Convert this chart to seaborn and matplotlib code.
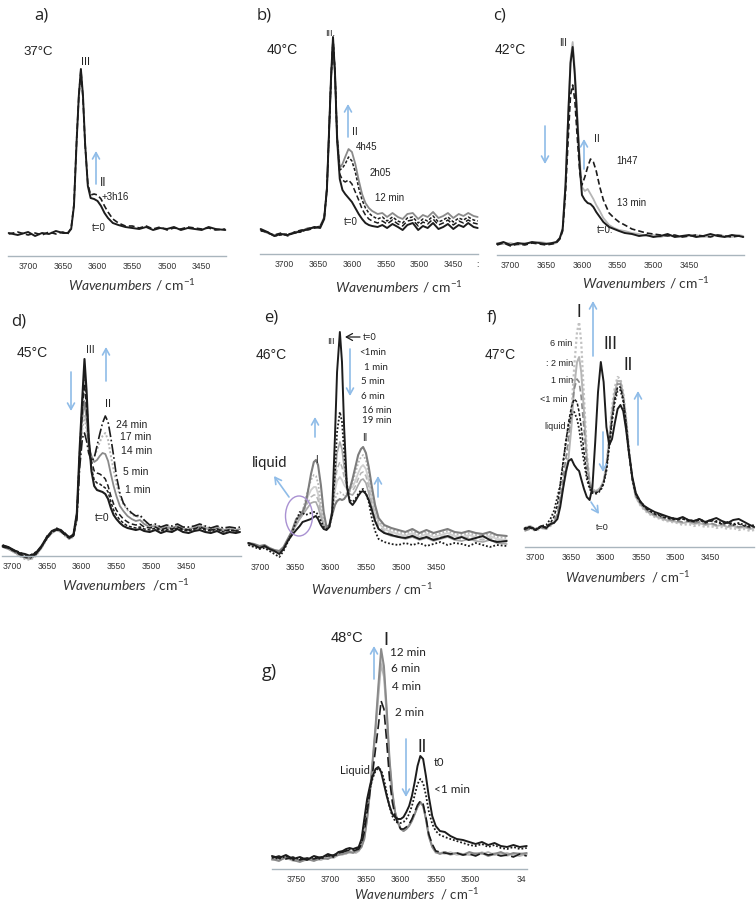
import matplotlib
matplotlib.use('Agg')
import matplotlib.pyplot as plt
import seaborn as sns
from matplotlib.patches import Ellipse, FancyArrowPatch

# ---- data: wavenumbers (cm-1) and absorbance (arb. units) ----

# a) 37 C
A_WN = [3728, 3715, 3700, 3690, 3680, 3670, 3660, 3650, 3643, 3638, 3634, 3630, 3627, 3624, 3621, 3618,
        3614, 3610, 3605, 3600, 3595, 3590, 3585, 3578, 3570, 3560, 3550, 3540, 3530, 3520, 3510, 3500,
        3490, 3480, 3470, 3460, 3450, 3440, 3430, 3416]
A_T0 = [23, 21, 24, 20, 23, 22, 25, 23, 23, 27, 50, 117, 160, 187, 160, 113,
        70, 58, 57, 55, 50, 43, 38, 33, 31, 29, 28, 27, 29, 26, 28, 27,
        29, 26, 28, 27, 26, 29, 27, 26]
A_3H16 = [22, 24, 21, 23, 21, 24, 22, 24, 22, 28, 52, 118, 160, 186, 158, 112,
          72, 61, 62, 61, 57, 50, 44, 37, 33, 30, 30, 28, 30, 27, 29, 26,
          28, 27, 29, 28, 27, 28, 26, 27]

# b) 40 C
B_WN = [3735, 3725, 3715, 3705, 3695, 3685, 3675, 3665, 3655, 3647, 3641, 3637, 3634, 3631, 3628, 3625,
        3622, 3618, 3614, 3610, 3605, 3600, 3595, 3590, 3585, 3580, 3575, 3570, 3562, 3555, 3548, 3540,
        3532, 3525, 3518, 3510, 3502, 3495, 3488, 3480, 3472, 3465, 3458, 3450, 3442, 3435, 3428, 3420, 3414]
B_T0 = [25, 22, 18, 20, 19, 21, 23, 25, 27, 26, 35, 65, 120, 175, 217, 180, 115,
        75, 64, 60, 56, 52, 46, 40, 35, 31, 29, 28, 27, 29, 26, 30,
        27, 24, 29, 31, 24, 28, 26, 31, 25, 27, 30, 25, 29, 27, 31, 27, 26]
B_12MIN = [24, 21, 19, 21, 18, 22, 24, 24, 26, 27, 36, 66, 121, 175, 216, 180, 116,
           80, 74, 72, 74, 70, 62, 54, 45, 39, 35, 33, 31, 33, 30, 34,
           30, 28, 33, 34, 28, 32, 30, 35, 29, 31, 34, 29, 33, 31, 34, 31, 30]
B_2H05 = [23, 22, 18, 19, 20, 21, 22, 25, 27, 27, 36, 64, 118, 173, 215, 181, 118,
          84, 86, 90, 97, 93, 82, 66, 54, 46, 41, 38, 35, 37, 33, 37,
          33, 31, 36, 37, 31, 35, 33, 38, 32, 34, 37, 32, 36, 34, 37, 34, 33]
B_4H45 = [24, 21, 19, 20, 19, 22, 23, 26, 26, 28, 37, 66, 119, 172, 212, 180, 120,
          86, 90, 97, 105, 102, 90, 74, 60, 51, 46, 43, 40, 41, 37, 41,
          37, 35, 40, 41, 35, 39, 37, 42, 36, 38, 41, 36, 40, 38, 41, 38, 37]

# c) 42 C
C_WN = [3719, 3710, 3700, 3690, 3680, 3670, 3660, 3650, 3642, 3636, 3631, 3627, 3623, 3619, 3616, 3613,
        3610, 3607, 3603, 3600, 3596, 3592, 3588, 3584, 3580, 3575, 3570, 3562, 3555, 3548, 3540, 3530,
        3520, 3510, 3500, 3490, 3480, 3470, 3460, 3450, 3440, 3430, 3420, 3410, 3400, 3390, 3380, 3374]
C_T0 = [11, 13, 10, 12, 11, 13, 12, 11, 12, 13, 17, 26, 70, 143, 192, 208,
        180, 140, 88, 60, 55, 52, 51, 48, 43, 38, 33, 28, 26, 24, 22, 21,
        19, 20, 18, 19, 21, 18, 19, 20, 18, 19, 21, 19, 18, 20, 19, 18]
C_13MIN = [12, 11, 12, 10, 12, 12, 13, 12, 11, 12, 16, 27, 72, 145, 196, 213,
           186, 148, 95, 68, 64, 66, 61, 56, 50, 44, 37, 30, 27, 25, 24, 22,
           21, 19, 20, 18, 20, 19, 18, 19, 20, 18, 19, 20, 19, 18, 20, 19]
C_1H47 = [10, 12, 9, 11, 10, 12, 11, 10, 11, 12, 16, 24, 62, 120, 160, 170,
          155, 122, 82, 70, 78, 88, 96, 93, 84, 68, 55, 42, 37, 33, 30, 26,
          24, 22, 21, 20, 19, 20, 18, 19, 20, 19, 18, 20, 19, 18, 19, 18]

# d) 45 C
D_WN = [3714, 3706, 3698, 3690, 3682, 3674, 3666, 3658, 3650, 3643, 3636, 3630, 3624, 3618,
        3612, 3607, 3603, 3599, 3596, 3593, 3590, 3586, 3582, 3578, 3574, 3570, 3566, 3562, 3558, 3554,
        3550, 3545, 3540, 3534, 3528, 3522, 3516, 3510,
        3502, 3494, 3486, 3478, 3470, 3462, 3454, 3446, 3438, 3430, 3422, 3414, 3405, 3396, 3387, 3378, 3372]
D_T0 = [10, 9, 6, 3, 2, 0, 3, 10, 19, 25, 27, 26, 22, 19,
        21, 43, 107, 160, 197, 165, 120, 85, 70, 66, 65, 64, 62, 57, 48, 41, 37, 33, 30, 28, 27, 26, 27, 25,
        24, 26, 23, 25, 24, 27, 24, 23, 25, 26, 24, 23, 25, 22, 24, 23, 24]
D_1MIN = [11, 8, 6, 4, 1, 1, 4, 9, 20, 24, 28, 25, 23, 18,
          22, 42, 104, 155, 188, 158, 118, 88, 76, 73, 72, 70, 68, 64, 54, 46, 41, 36, 33, 30, 29, 28, 29, 27,
          26, 28, 25, 27, 26, 28, 26, 25, 27, 28, 26, 25, 27, 24, 26, 25, 25]
D_5MIN = [9, 8, 5, 2, 0, -1, 2, 9, 18, 24, 26, 25, 21, 18,
          20, 40, 100, 148, 172, 148, 115, 95, 85, 83, 82, 80, 77, 70, 60, 52, 46, 41, 37, 34, 32, 31, 32, 29,
          28, 29, 26, 28, 27, 29, 27, 26, 27, 29, 27, 26, 27, 25, 26, 25, 26]
D_14MIN = [9, 7, 4, 1, -2, -3, 1, 8, 18, 23, 26, 24, 21, 17,
           20, 38, 95, 138, 155, 135, 110, 100, 94, 96, 100, 103, 102, 95, 82, 70, 60, 50, 45, 40, 37, 35, 36, 32,
           29, 30, 27, 29, 28, 30, 27, 27, 28, 30, 28, 26, 28, 26, 27, 26, 27]
D_17MIN = [10, 8, 4, 0, -3, -4, 0, 8, 17, 23, 26, 24, 20, 17,
           19, 37, 92, 128, 140, 125, 108, 100, 100, 106, 114, 120, 123, 116, 100, 86, 72, 60, 52, 46, 42, 39, 40, 35,
           30, 31, 28, 30, 29, 31, 28, 28, 29, 31, 29, 27, 29, 27, 28, 27, 28]
D_24MIN = [11, 9, 5, 2, -1, -2, 2, 9, 18, 24, 27, 25, 21, 18,
           20, 36, 88, 118, 123, 115, 103, 95, 98, 110, 122, 133, 140, 134, 118, 100, 80, 63, 53, 47, 43, 40, 41, 36,
           31, 32, 29, 31, 30, 32, 29, 29, 30, 32, 30, 28, 30, 28, 29, 28, 29]

# e) 46 C
E_WN = [3717, 3709, 3701, 3694, 3687, 3680, 3673, 3667, 3661, 3655, 3649, 3644, 3640, 3636, 3632, 3628,
        3624, 3621, 3618, 3614, 3610, 3606, 3602, 3598, 3594, 3591, 3587, 3584, 3581, 3577, 3573, 3569,
        3565, 3561, 3557, 3554, 3550, 3546, 3542, 3537, 3532,
        3524, 3514, 3504, 3494, 3484, 3474, 3464, 3454, 3444, 3434, 3424, 3414, 3404, 3394, 3384, 3374, 3364, 3350]
E_T0 = [14, 12, 9, 11, 8, 6, 3, 8, 16, 22, 27, 31, 35, 36, 37, 38,
        40, 41, 38, 32, 28, 27, 30, 45, 120, 185, 225, 195, 130, 70, 55, 52,
        56, 61, 65, 66, 63, 57, 48, 36, 28,
        24, 22, 20, 19, 21, 18, 20, 17, 19, 21, 18, 20, 17, 19, 21, 17, 15, 16]
E_LT1 = [12, 10, 8, 9, 6, 3, 0, 6, 15, 24, 36, 45, 44, 42, 43, 44,
         45, 45, 42, 36, 30, 28, 30, 42, 85, 125, 145, 135, 105, 72, 57, 55,
         58, 63, 67, 68, 64, 55, 40, 26, 18,
         15, 13, 12, 14, 12, 14, 11, 13, 15, 12, 14, 13, 11, 14, 12, 10, 12, 11]
E_1MIN = [13, 12, 10, 10, 8, 6, 5, 9, 17, 25, 33, 38, 42, 46, 50, 54,
          55, 55, 50, 40, 31, 28, 31, 42, 78, 104, 115, 108, 90, 72, 63, 62,
          66, 72, 77, 78, 74, 64, 50, 36, 28,
          24, 21, 20, 18, 20, 17, 19, 16, 18, 20, 17, 16, 18, 16, 15, 17, 14, 13]
E_5MIN = [12, 11, 9, 10, 7, 5, 4, 8, 16, 24, 32, 38, 43, 49, 55, 60,
          62, 62, 57, 44, 32, 28, 32, 46, 72, 88, 95, 90, 80, 70, 66, 66,
          71, 78, 84, 85, 81, 70, 55, 40, 31,
          26, 23, 21, 19, 22, 18, 21, 18, 20, 22, 19, 18, 20, 18, 17, 19, 16, 15]
E_6MIN = [13, 12, 10, 11, 8, 6, 5, 9, 17, 25, 32, 39, 45, 53, 61, 67,
          70, 70, 63, 47, 33, 28, 32, 47, 66, 76, 80, 77, 72, 68, 68, 70,
          76, 84, 90, 92, 88, 76, 60, 44, 34,
          28, 25, 23, 21, 24, 20, 23, 20, 22, 24, 21, 20, 22, 20, 19, 21, 18, 17]
E_16MIN = [12, 11, 9, 10, 7, 5, 4, 8, 16, 24, 33, 39, 46, 57, 68, 77,
           82, 81, 74, 54, 35, 28, 31, 44, 58, 63, 65, 63, 62, 64, 68, 74,
           84, 94, 100, 102, 97, 84, 66, 48, 36,
           30, 27, 25, 23, 26, 22, 25, 22, 24, 26, 23, 22, 24, 22, 21, 23, 20, 19]
E_19MIN = [14, 13, 11, 12, 9, 7, 6, 10, 18, 26, 38, 41, 45, 52, 67, 83,
           95, 97, 92, 72, 45, 30, 32, 42, 52, 56, 58, 57, 58, 62, 68, 78,
           90, 102, 108, 110, 104, 90, 72, 52, 39,
           32, 29, 27, 25, 28, 24, 27, 24, 26, 28, 25, 24, 26, 24, 23, 25, 22, 21]

# f) 47 C
F_WN = [3716, 3708, 3700, 3692, 3685, 3679, 3674, 3669, 3665, 3661, 3657, 3653, 3649, 3645, 3641, 3638,
        3635, 3631, 3627, 3623, 3619, 3615, 3611, 3607, 3603, 3599, 3595, 3591, 3587, 3583, 3579, 3575,
        3571, 3567, 3562, 3557, 3551, 3545, 3538, 3530, 3522, 3514, 3506, 3498, 3490, 3482, 3474, 3466,
        3458, 3450, 3442, 3434, 3426, 3418, 3410, 3402, 3394, 3388]
F_T0 = [18, 20, 17, 21, 19, 23, 24, 28, 40, 58, 75, 86, 88, 82, 78, 76,
        68, 58, 50, 47, 60, 105, 155, 185, 165, 120, 102, 108, 124, 138, 142, 136,
        118, 95, 70, 54, 46, 41, 38, 35, 33, 31, 29, 28, 30, 27, 26, 28,
        25, 27, 29, 26, 24, 27, 28, 25, 22, 20]
F_LIQ = [19, 20, 18, 21, 22, 28, 36, 50, 62, 82, 105, 122, 132, 135, 128, 118,
         103, 85, 68, 58, 54, 53, 54, 57, 63, 76, 100, 125, 145, 156, 157, 146,
         122, 95, 68, 53, 46, 41, 37, 34, 32, 30, 29, 28, 29, 27, 26, 28,
         25, 27, 26, 24, 25, 23, 24, 22, 21, 22]
F_LT1 = [18, 19, 17, 20, 20, 24, 30, 42, 62, 85, 105, 125, 140, 148, 145, 135,
         120, 95, 72, 60, 55, 54, 55, 58, 64, 78, 102, 128, 148, 160, 160, 148,
         124, 96, 68, 52, 45, 40, 36, 33, 31, 29, 28, 27, 28, 26, 25, 27,
         24, 26, 25, 23, 24, 22, 23, 21, 20, 21]
F_1MIN = [16, 18, 17, 19, 18, 22, 26, 33, 50, 68, 88, 110, 135, 158, 168, 165,
          150, 118, 85, 63, 56, 55, 56, 59, 65, 80, 105, 132, 152, 163, 163, 150,
          126, 97, 68, 51, 44, 39, 35, 32, 30, 28, 27, 26, 25, 26, 24, 25,
          23, 24, 22, 23, 21, 22, 20, 21, 19, 20]
F_2MIN = [19, 21, 18, 20, 19, 22, 25, 31, 45, 60, 72, 90, 120, 160, 185, 190,
          175, 135, 90, 65, 58, 56, 57, 60, 66, 82, 108, 135, 155, 166, 166, 152,
          128, 98, 68, 50, 43, 38, 34, 31, 29, 27, 26, 25, 24, 25, 23, 24,
          22, 23, 21, 22, 20, 21, 19, 20, 18, 19]
F_6MIN = [17, 19, 16, 19, 18, 21, 24, 30, 45, 62, 78, 100, 135, 180, 215, 225,
          205, 150, 95, 65, 57, 56, 57, 60, 66, 82, 110, 140, 160, 170, 168, 155,
          130, 100, 68, 50, 42, 37, 33, 30, 28, 26, 25, 24, 22, 23, 21, 22,
          20, 21, 19, 20, 18, 19, 17, 18, 16, 17]

# g) 48 C
G_WN = [3784, 3774, 3764, 3754, 3744, 3734, 3724, 3714, 3704, 3696, 3689, 3683, 3678, 3673, 3668, 3664,
        3660, 3656, 3652, 3648, 3644, 3640, 3636, 3632, 3628, 3624, 3620, 3616, 3612, 3608, 3604, 3600,
        3596, 3592, 3588, 3584, 3580, 3576, 3572, 3568, 3564, 3560, 3555, 3550, 3544, 3537, 3529, 3520,
        3511, 3502, 3493, 3484, 3475, 3466, 3457, 3448, 3439, 3430, 3420]
G_T0 = [13, 11, 14, 10, 12, 9, 13, 11, 15, 13, 17, 18, 20, 21, 20, 21,
        22, 30, 50, 70, 83, 93, 100, 102, 97, 85, 73, 63, 55, 52, 50, 50,
        52, 57, 63, 73, 87, 103, 113, 110, 93, 73, 53, 43, 38, 37, 33, 30,
        29, 27, 25, 27, 24, 26, 23, 22, 24, 22, 23]
G_LT1 = [12, 10, 13, 9, 11, 10, 12, 10, 14, 12, 16, 17, 19, 20, 19, 20,
         21, 28, 46, 66, 80, 91, 98, 101, 99, 90, 76, 62, 53, 48, 46, 46,
         47, 50, 55, 63, 74, 85, 90, 86, 74, 58, 45, 38, 34, 32, 30, 28,
         26, 24, 23, 25, 22, 24, 21, 20, 22, 20, 21]
G_2MIN = [11, 13, 10, 12, 9, 11, 10, 12, 13, 14, 16, 17, 18, 19, 18, 19,
          20, 25, 37, 57, 77, 97, 120, 143, 168, 160, 127, 90, 67, 53, 45, 40,
          40, 42, 45, 50, 57, 64, 68, 65, 52, 35, 25, 18, 17, 16, 15, 16,
          14, 15, 13, 16, 14, 15, 13, 14, 12, 15, 13]
G_4MIN = [9, 10, 11, 10, 8, 9, 10, 9, 12, 11, 14, 16, 15, 18, 17, 16,
          18, 23, 32, 52, 76, 106, 137, 172, 205, 192, 153, 106, 75, 56, 46, 40,
          38, 40, 44, 49, 55, 62, 66, 63, 50, 34, 23, 18, 16, 17, 14, 16,
          15, 14, 16, 15, 17, 14, 15, 16, 14, 13, 15]
G_6MIN = [11, 9, 11, 8, 8, 11, 9, 10, 11, 12, 15, 14, 17, 16, 17, 17,
          18, 22, 31, 50, 76, 108, 140, 178, 213, 198, 157, 108, 76, 57, 46, 40,
          39, 41, 44, 49, 56, 63, 67, 64, 50, 33, 22, 16, 16, 15, 17, 14,
          15, 16, 14, 17, 14, 16, 15, 13, 15, 16, 14]
G_12MIN = [10, 8, 12, 9, 7, 10, 8, 11, 10, 13, 14, 15, 16, 17, 16, 18,
           19, 22, 30, 50, 77, 110, 143, 183, 220, 203, 160, 110, 77, 57, 47, 40,
           38, 40, 43, 48, 55, 62, 67, 63, 50, 33, 22, 17, 15, 17, 15, 16,
           14, 17, 15, 16, 13, 15, 17, 14, 16, 15, 16]

TICKS = [3700, 3650, 3600, 3550, 3500, 3450]
G_TICKS = [3750, 3700, 3650, 3600, 3550, 3500, 3427]
G_TICKLABELS = ['3750', '3700', '3650', '3600', '3550', '3500', '34']

# ---- figure ----
sns.set_style('white')
plt.rcParams['font.family'] = ['Liberation Sans', 'DejaVu Sans']
plt.rcParams['mathtext.fontset'] = 'custom'
plt.rcParams['mathtext.it'] = 'Lato:italic'
plt.rcParams['mathtext.rm'] = 'Lato'

W, H = 756, 903
fig = plt.figure(figsize=(W / 100, H / 100), dpi=100)

BLACK = '#1c1c1c'
GRAY = '#8a8a8a'
LGRAY = '#b5b5b5'
BLUE = '#8fbce8'
TXT = '#222222'
LATO = ['Lato', 'DejaVu Sans']
ARIAL = ['Liberation Sans', 'DejaVu Sans']


def panel(left, right, top, bottom, wn, curves, xlim, ticks=TICKS, ticklabels=None, spine=True):
    # axes placed in pixel units, y data are heights in pixels above the axis line
    ax = fig.add_axes([left / W, 1 - bottom / H, (right - left) / W, (bottom - top) / H])
    for y, color, ls, lw in curves:
        sns.lineplot(x=wn, y=y, ax=ax, color=color, linestyle=ls, linewidth=lw,
                     sort=False, estimator=None, clip_on=False)
    ax.set_xlim(*xlim)
    ax.set_ylim(0, bottom - top)
    ax.set_xticks(ticks)
    ax.set_xticklabels(ticklabels or [str(t) for t in ticks])
    ax.tick_params(axis='x', length=0, pad=3.5, labelsize=6.2, labelcolor='#333333')
    ax.set_yticks([])
    ax.set_xlabel('')
    ax.set_ylabel('')
    for s in ['top', 'right', 'left']:
        ax.spines[s].set_visible(False)
    ax.spines['bottom'].set_visible(spine)
    ax.spines['bottom'].set_color('#a9b5bd')
    ax.spines['bottom'].set_linewidth(1.0)
    ax.patch.set_alpha(0)
    return ax


def txt(x, y, s, size=7, family=ARIAL, **kw):
    fig.text(x / W, 1 - y / H, s, ha='center', va='center', fontsize=size,
             color=kw.pop('color', TXT), family=family, **kw)


def arrow(x1, y1, x2, y2, color=BLUE, lw=1.2):
    fig.add_artist(FancyArrowPatch((x1 / W, 1 - y1 / H), (x2 / W, 1 - y2 / H),
                                   transform=fig.transFigure, color=color, lw=lw,
                                   arrowstyle='->,head_length=0.45,head_width=0.25',
                                   mutation_scale=10, shrinkA=0, shrinkB=0))


XLAB = r'$\mathit{Wavenumbers}$ / cm$^{-1}$'
XLAB2 = r'$\mathit{Wavenumbers}$  /cm$^{-1}$'
XLAB3 = r'$\mathit{Wavenumbers}$  / cm$^{-1}$'
DASH = (0, (3.5, 1.8))
FINE = (0, (2, 1.2))
DOT = (0, (1, 1.1))

# a)
panel(8, 226, 30, 257, A_WN,
      [(A_3H16, BLACK, DASH, 1.2), (A_T0, BLACK, '-', 1.4)], (3729, 3415))
txt(41, 15, 'a)', 12, ['Open Sans', 'DejaVu Sans'])
txt(38, 52, '37°C', 9.5)
txt(86, 62, 'III', 8)
txt(103, 183, 'II', 8.5)
txt(115, 197, '+3h16', 7)
txt(99, 228, 't=0', 7)
arrow(96, 185, 96, 152)
txt(132, 285, XLAB, 10, LATO, color='#333333')

# b)
panel(260, 478, 30, 255, B_WN,
      [(B_4H45, GRAY, '-', 1.3), (B_2H05, BLACK, FINE, 1.1), (B_12MIN, BLACK, DASH, 1.1),
       (B_T0, BLACK, '-', 1.4)], (3736, 3413.5),
      ticks=TICKS + [3415], ticklabels=[str(t) for t in TICKS] + [':'])
txt(264, 15, 'b)', 12, ['Open Sans', 'DejaVu Sans'])
txt(282, 50, '40°C', 10)
txt(330, 33, 'III.', 6.5)
txt(355, 132, 'II', 7.5)
txt(367, 147, '4h45', 7)
txt(380, 173, '2h05', 7)
txt(390, 198, '12 min', 7)
txt(351, 222, 't=0', 7)
arrow(348, 138, 348, 105)
txt(399, 287, XLAB, 10, LATO, color='#333333')

# c)
panel(497, 744, 30, 256, C_WN,
      [(C_13MIN, LGRAY, '-', 1.3), (C_1H47, BLACK, DASH, 1.2), (C_T0, BLACK, '-', 1.4)],
      (3719, 3373))
txt(500, 15, 'c)', 12, ['Open Sans', 'DejaVu Sans'])
txt(510, 50, '42°C', 10)
txt(563, 43, 'III', 7)
txt(597, 139, 'II', 7.5)
txt(627, 161, '1h47', 7)
txt(632, 203, '13 min', 7)
txt(605, 230, 't=0:', 7)
arrow(545, 127, 545, 165)
arrow(584, 170, 584, 140)
txt(646, 283, XLAB, 10, LATO, color='#333333')

# d)
panel(1.7, 240.7, 330, 557, D_WN,
      [(D_14MIN, GRAY, '-', 1.3), (D_17MIN, LGRAY, DOT, 1.4), (D_5MIN, BLACK, DASH, 1.1),
       (D_1MIN, BLACK, FINE, 1.1), (D_24MIN, BLACK, '-.', 1.2), (D_T0, BLACK, '-', 1.5)],
      (3715.3, 3370.9))
txt(19, 322, 'd)', 12, ['Open Sans', 'DejaVu Sans'])
txt(32, 353, '45°C', 10)
txt(90, 350, 'III', 7.5)
txt(108, 404, 'II', 8)
txt(132, 425, '24 min', 7.5)
txt(136, 437, '17 min', 7.5)
txt(137, 451, '14 min', 7.5)
txt(136, 472, '5 min', 7.5)
txt(138, 490, '1 min', 7.5)
txt(102, 518, 't=0', 7.5)
arrow(71, 373, 71, 412)
arrow(106, 382, 106, 348)
txt(126, 585, XLAB2, 10, LATO, color='#333333')

# e)
panel(248, 508, 320, 558, E_WN,
      [(E_6MIN, '#cfcfcf', '-', 1.3), (E_16MIN, LGRAY, DOT, 1.3), (E_5MIN, LGRAY, DASH, 1.1),
       (E_1MIN, '#a8a8a8', '-', 1.2), (E_19MIN, '#7d7d7d', '-', 1.5),
       (E_LT1, BLACK, DOT, 1.3), (E_T0, BLACK, '-', 1.4)],
      (3717.5, 3348.2), spine=False)
txt(271, 317, 'e)', 12, ['Open Sans', 'DejaVu Sans'])
txt(271, 355, '46°C', 10)
txt(331, 342, 'III', 6.5)
arrow(360, 338, 345, 338, color=BLACK, lw=0.9)
txt(370, 338, 't=0', 6.5, LATO)
txt(373, 353, '<1min', 7, LATO)
txt(376, 368, '1 min', 7, LATO)
txt(373, 382, '5 min', 7, LATO)
txt(373, 397, '6 min', 7, LATO)
txt(377, 411, '16 min', 7, LATO)
txt(377, 421, '19 min', 7, LATO)
arrow(350, 350, 350, 397)
txt(316, 460, 'I', 7)
arrow(315, 438, 315, 418)
txt(365, 438, 'II', 7)
arrow(378, 498, 378, 477)
txt(270, 463, 'liquid', 10.5, LATO)
arrow(289, 498, 274, 477)
fig.add_artist(Ellipse((299 / W, 1 - 517 / H), 27 / W, 40 / H, transform=fig.transFigure,
                       fill=False, ec='#a991d2', lw=1.0))
txt(372, 589, XLAB, 9.5, LATO, color='#333333')

# f)
panel(525, 754, 300, 548, F_WN,
      [(F_6MIN, '#c2c2c2', DOT, 1.6), (F_2MIN, LGRAY, '-', 1.4), (F_1MIN, GRAY, DASH, 1.2),
       (F_LT1, BLACK, FINE, 1.1), (F_LIQ, BLACK, DOT, 1.3), (F_T0, BLACK, '-', 1.4)],
      (3715.3, 3388.2))
txt(492, 317, 'f)', 12, ['Open Sans', 'DejaVu Sans'])
txt(500, 355, '47°C', 10)
txt(579, 312, 'I', 12, LATO)
txt(610, 344, 'III', 12, LATO)
txt(628, 365, 'II', 12, LATO)
txt(561, 343, '6 min', 6.5)
txt(560, 363, ': 2 min', 6.5)
txt(562, 381, '1 min', 6.5)
txt(554, 400, '<1 min', 6.5)
txt(555, 427, 'liquid', 6.5)
txt(602, 528, 't=0', 6.5)
arrow(593, 357, 593, 302)
arrow(638, 446, 638, 392)
arrow(603, 433, 603, 473)
arrow(591, 503, 599, 515)
txt(628, 577, XLAB3, 9.5, LATO, color='#333333')

# g)
panel(272, 527, 630, 870, G_WN,
      [(G_6MIN, '#cdcdcd', '-', 1.3), (G_4MIN, LGRAY, '-', 1.3), (G_12MIN, GRAY, '-', 1.4),
       (G_2MIN, BLACK, (0, (6, 2.5)), 1.2), (G_LT1, BLACK, DOT, 1.3), (G_T0, BLACK, '-', 1.4)],
      (3783.9, 3419.6), ticks=G_TICKS, ticklabels=G_TICKLABELS)
txt(269, 672, 'g)', 13, ['Open Sans', 'DejaVu Sans'])
txt(347, 638, '48°C', 10.5)
txt(386, 640, 'I', 13, LATO)
txt(408, 653, '12 min', 8.5, LATO)
txt(406, 669, '6 min', 8.5, LATO)
txt(406, 686, '4 min', 8.5, LATO)
txt(409, 713, '2 min', 8.5, LATO)
txt(355, 771, 'Liquid', 8, LATO)
txt(422, 747, 'II', 12, LATO)
txt(439, 763, 't0', 8, LATO)
txt(452, 790, '<1 min', 8.5, LATO)
arrow(374, 680, 374, 647)
arrow(406, 740, 406, 798)
txt(417, 894, XLAB3, 9.5, LATO, color='#333333')

fig.savefig('out.png', dpi=100)
